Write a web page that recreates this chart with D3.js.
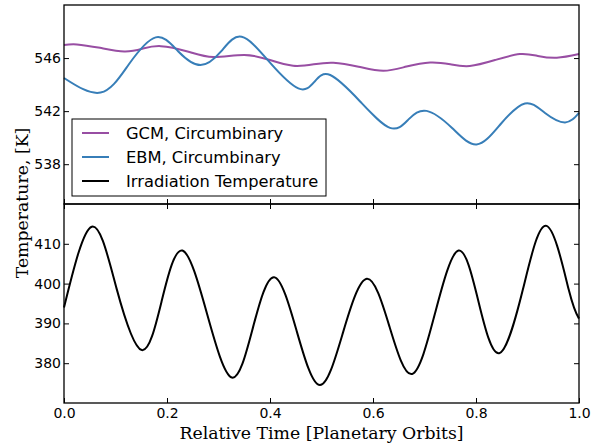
<!DOCTYPE html>
<html>
<head>
<meta charset="utf-8">
<script src="https://cdn.jsdelivr.net/npm/d3@7"></script>
<style>
  body { margin: 0; background: #fff; }
  .tick text { font-family: "DejaVu Sans", sans-serif; font-size: 14px; fill: #000; }
  .lbl { font-family: "DejaVu Serif", serif; font-size: 17.3px; fill: #000; }
</style>
</head>
<body>
<div id="chart-area"></div>
<script>
// Series: [time, temperature]
const gcm = [
  [0.000, 546.98], [0.025, 547.03], [0.070, 546.77], [0.117, 546.50], [0.152, 546.70],
  [0.188, 546.90], [0.240, 546.50], [0.290, 546.08], [0.350, 546.24], [0.400, 545.85],
  [0.445, 545.42], [0.485, 545.53], [0.523, 545.65], [0.572, 545.35], [0.620, 545.04],
  [0.665, 545.36], [0.711, 545.67], [0.750, 545.53], [0.788, 545.40], [0.837, 545.85],
  [0.885, 546.30], [0.920, 546.16], [0.957, 546.02], [1.000, 546.30]
];
const ebm = [
  [0.000, 544.50], [0.071, 543.40], [0.125, 545.48], [0.178, 547.56], [0.222, 546.50],
  [0.265, 545.47], [0.305, 546.50], [0.345, 547.60], [0.400, 545.65], [0.455, 543.71],
  [0.486, 544.20], [0.517, 544.72], [0.575, 542.73], [0.633, 540.74], [0.669, 541.38],
  [0.704, 542.02], [0.753, 540.75], [0.801, 539.49], [0.848, 541.03], [0.895, 542.58],
  [0.934, 541.86], [0.973, 541.15], [1.000, 541.87]
];
const irradiation = [
  [0.000, 394.0], [0.054, 414.3], [0.102, 398.8], [0.151, 383.3], [0.190, 395.8],
  [0.230, 408.3], [0.278, 392.3], [0.326, 376.4], [0.367, 389.0], [0.408, 401.6],
  [0.452, 388.0], [0.497, 374.5], [0.542, 387.8], [0.588, 401.2], [0.632, 389.2],
  [0.676, 377.3], [0.721, 392.8], [0.766, 408.3], [0.805, 395.4], [0.845, 382.5],
  [0.891, 398.5], [0.937, 414.5], [0.980, 398.5], [1.000, 391.2]
];

const xTicks = [0, 0.2, 0.4, 0.6, 0.8, 1.0];
const topTicks = [538, 542, 546];
const bottomTicks = [380, 390, 400, 410];
const legendItems = [
  { name: "GCM, Circumbinary", color: "#984ea3" },
  { name: "EBM, Circumbinary", color: "#377eb8" },
  { name: "Irradiation Temperature", color: "#000000" }
];

const margin = { top: 5, left: 64 };
const width = 515;
const panelH = 199;

const svg = d3.select("#chart-area")
    .append("svg")
    .attr("width", 600)
    .attr("height", 444);

const g = svg.append("g")
    .attr("transform", "translate(" + margin.left + "," + margin.top + ")");

const xScale = d3.scaleLinear().domain([0, 1]).range([0, width]);
const yTop = d3.scaleLinear().domain([535, 550]).range([panelH, 0]);
const yBot = d3.scaleLinear().domain([370, 420]).range([2 * panelH, panelH]);

function styleAxis(sel) {
    sel.select(".domain").remove();
    sel.selectAll(".tick line").attr("stroke", "#000").attr("stroke-width", 1);
}

// top panel axes (ticks point inward)
g.append("g")
    .call(d3.axisLeft(yTop).tickValues(topTicks).tickSize(-5).tickPadding(3).tickFormat(d3.format("d")))
    .call(styleAxis);
g.append("g")
    .attr("transform", "translate(" + width + ",0)")
    .call(d3.axisRight(yTop).tickValues(topTicks).tickSize(-5).tickFormat(""))
    .call(styleAxis);
g.append("g")
    .attr("transform", "translate(0," + panelH + ")")
    .call(d3.axisBottom(xScale).tickValues(xTicks).tickSize(-5).tickFormat(""))
    .call(styleAxis);

// bottom panel axes
g.append("g")
    .call(d3.axisLeft(yBot).tickValues(bottomTicks).tickSize(-5).tickPadding(3).tickFormat(d3.format("d")))
    .call(styleAxis);
g.append("g")
    .attr("transform", "translate(" + width + ",0)")
    .call(d3.axisRight(yBot).tickValues(bottomTicks).tickSize(-5).tickFormat(""))
    .call(styleAxis);
g.append("g")
    .attr("transform", "translate(0," + panelH + ")")
    .call(d3.axisTop(xScale).tickValues(xTicks).tickSize(-5).tickFormat(""))
    .call(styleAxis);
g.append("g")
    .attr("transform", "translate(0," + (2 * panelH) + ")")
    .call(d3.axisBottom(xScale).tickValues(xTicks).tickSize(-5).tickPadding(5).tickFormat(d3.format(".1f")))
    .call(styleAxis);

// lines
const lineTop = d3.line().x(d => xScale(d[0])).y(d => yTop(d[1])).curve(d3.curveNatural);
const lineBot = d3.line().x(d => xScale(d[0])).y(d => yBot(d[1])).curve(d3.curveNatural);

g.append("path").datum(gcm)
    .attr("d", lineTop).attr("fill", "none")
    .attr("stroke", legendItems[0].color).attr("stroke-width", 2);
g.append("path").datum(ebm)
    .attr("d", lineTop).attr("fill", "none")
    .attr("stroke", legendItems[1].color).attr("stroke-width", 2);
g.append("path").datum(irradiation)
    .attr("d", lineBot).attr("fill", "none")
    .attr("stroke", legendItems[2].color).attr("stroke-width", 2);

// frames
g.append("rect")
    .attr("width", width).attr("height", panelH)
    .attr("fill", "none").attr("stroke", "#000").attr("stroke-width", 1.3);
g.append("rect")
    .attr("y", panelH)
    .attr("width", width).attr("height", panelH)
    .attr("fill", "none").attr("stroke", "#000").attr("stroke-width", 1.3);

// legend
const legend = g.append("g")
    .attr("class", "legend")
    .attr("transform", "translate(8,114)");
legend.append("rect")
    .attr("width", 254).attr("height", 77)
    .attr("fill", "#fff").attr("stroke", "#000").attr("stroke-width", 1);
legendItems.forEach((item, i) => {
    const cy = 14 + i * 24;
    legend.append("line")
        .attr("x1", 10).attr("x2", 37)
        .attr("y1", cy).attr("y2", cy)
        .attr("stroke", item.color).attr("stroke-width", 2);
    legend.append("text")
        .attr("x", 54).attr("y", cy)
        .attr("dy", "0.35em")
        .style("font-family", "DejaVu Sans, sans-serif")
        .style("font-size", "16.3px")
        .text(item.name);
});

// axis labels
svg.append("text")
    .attr("class", "lbl")
    .attr("x", margin.left + width / 2)
    .attr("y", 439)
    .attr("text-anchor", "middle")
    .text("Relative Time [Planetary Orbits]");

svg.append("text")
    .attr("class", "lbl")
    .attr("transform", "translate(28," + (margin.top + panelH - 1) + ") rotate(-90)")
    .attr("text-anchor", "middle")
    .text("Temperature, [K]");
</script>
</body>
</html>
